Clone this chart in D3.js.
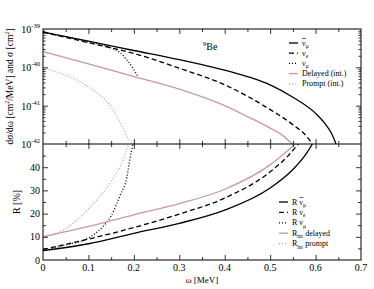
<!DOCTYPE html>
<html>
<head>
<meta charset="utf-8">
<script src="https://cdn.jsdelivr.net/npm/d3@7"></script>
<style>
  body { margin: 0; background: #fff; }
  svg text { font-family: "Liberation Serif", "DejaVu Serif", serif; fill: #000; }
</style>
</head>
<body>
<div id="chart"></div>
<script>
// top panel: cross sections (cm^2/MeV), omega in MeV
const omAbar = [0, 0.1, 0.2, 0.3, 0.35, 0.4, 0.45, 0.5, 0.55, 0.6, 0.62, 0.635, 0.645];
const sigAbar = [8.3e-40, 4.8e-40, 2.75e-40, 1.58e-40, 1.17e-40, 8.5e-41, 5.75e-41, 3.5e-41, 1.66e-41, 6.3e-42, 3.5e-42, 1.9e-42, 1e-42];
const omNue = [0, 0.1, 0.2, 0.3, 0.4, 0.5, 0.55, 0.58, 0.593];
const sigNue = [8.3e-40, 4.4e-40, 2.3e-40, 9.5e-41, 3.5e-41, 7.9e-42, 3.2e-42, 1.6e-42, 1e-42];
const omNumu = [0, 0.05, 0.1, 0.15, 0.17, 0.185, 0.198, 0.21];
const sigNumu = [8.3e-40, 6.3e-40, 4.6e-40, 3.2e-40, 2.4e-40, 1.55e-40, 9.5e-41, 5.5e-41];
const omDel = [0, 0.1, 0.2, 0.3, 0.4, 0.45, 0.5, 0.53, 0.548];
const sigDel = [2.57e-40, 1.23e-40, 5.75e-41, 2.7e-41, 1.0e-41, 5.2e-42, 2.6e-42, 1.6e-42, 1e-42];
const omPro = [0, 0.05, 0.1, 0.15, 0.175, 0.19, 0.2];
const sigPro = [9.5e-41, 6.3e-41, 3.1e-41, 9.3e-42, 2.8e-42, 1.26e-42, 1e-42];

// bottom panel: ratios R in %
const omRAbar = [0, 0.1, 0.2, 0.3, 0.4, 0.5, 0.55, 0.58, 0.593];
const rAbar = [4.0, 7.0, 11.5, 15.8, 21.5, 31, 39, 46, 50];
const omRNue = [0, 0.1, 0.2, 0.3, 0.4, 0.5, 0.54, 0.562];
const rNue = [4.6, 9.0, 14, 19.8, 26.7, 38, 45, 50];
const omRNumu = [0, 0.05, 0.1, 0.13, 0.15, 0.17, 0.185, 0.19, 0.198];
const rNumu = [4.0, 6.5, 9.5, 14, 19, 28, 36, 42, 50];
const omRDel = [0, 0.1, 0.2, 0.3, 0.4, 0.5, 0.555];
const rDel = [10, 14.5, 19.5, 24.3, 30.5, 41, 50];
const omRPro = [0, 0.05, 0.1, 0.15, 0.18, 0.188];
const rPro = [10, 13.5, 22, 34, 45, 50];

const xTicks = [0, 0.1, 0.2, 0.3, 0.4, 0.5, 0.6, 0.7];
const topTicks = [1e-42, 1e-41, 1e-40, 1e-39];
const botTicks = [0, 10, 20, 30, 40];

const pink = "#c99a9a";
const serif = "'Liberation Serif', 'DejaVu Serif', serif";

let width = 374, height = 289;
let L = 43, R = 361, T = 29, M = 144, B = 260;

let svg = d3.select("#chart").append("svg")
  .attr("width", width).attr("height", height)
  .style("font-family", serif);

let x = d3.scaleLinear().domain([0, 0.7]).range([L, R]);
let yTop = d3.scaleLog().domain([1e-42, 1e-39]).range([M, T]);
let yBot = d3.scaleLinear().domain([0, 50]).range([B, M]);

// clip paths
let defs = svg.append("defs");
defs.append("clipPath").attr("id", "cTop").append("rect")
  .attr("x", L).attr("y", T).attr("width", R - L).attr("height", M - T);
defs.append("clipPath").attr("id", "cBot").append("rect")
  .attr("x", L).attr("y", M).attr("width", R - L).attr("height", B - M);

function zip(a, b) { return a.map((v, i) => [v, b[i]]); }

let lineTop = d3.line().x(d => x(d[0])).y(d => yTop(d[1])).curve(d3.curveMonotoneX);
let lineBot = d3.line().x(d => x(d[0])).y(d => yBot(d[1])).curve(d3.curveMonotoneX);

let styles = {
  solid: {color: "#000", dash: null},
  dash: {color: "#000", dash: "5,3"},
  dot: {color: "#000", dash: "1,2"},
  pSolid: {color: pink, dash: null},
  pDot: {color: pink, dash: "1,2"}
};

let topSeries = [
  [omAbar, sigAbar, "solid"], [omNue, sigNue, "dash"], [omNumu, sigNumu, "dot"],
  [omDel, sigDel, "pSolid"], [omPro, sigPro, "pDot"]
];
let botSeries = [
  [omRAbar, rAbar, "solid"], [omRNue, rNue, "dash"], [omRNumu, rNumu, "dot"],
  [omRDel, rDel, "pSolid"], [omRPro, rPro, "pDot"]
];

let gTop = svg.append("g").attr("clip-path", "url(#cTop)");
topSeries.forEach(s => {
  gTop.append("path").attr("d", lineTop(zip(s[0], s[1])))
    .attr("fill", "none").attr("stroke", styles[s[2]].color)
    .attr("stroke-width", 1.3).attr("stroke-dasharray", styles[s[2]].dash);
});
let gBot = svg.append("g").attr("clip-path", "url(#cBot)");
botSeries.forEach(s => {
  gBot.append("path").attr("d", lineBot(zip(s[0], s[1])))
    .attr("fill", "none").attr("stroke", styles[s[2]].color)
    .attr("stroke-width", 1.3).attr("stroke-dasharray", styles[s[2]].dash);
});

// frames
svg.append("rect").attr("x", L).attr("y", T).attr("width", R - L).attr("height", B - T)
  .attr("fill", "none").attr("stroke", "#000").attr("stroke-width", 1);
svg.append("line").attr("x1", L).attr("x2", R).attr("y1", M).attr("y2", M)
  .attr("stroke", "#000").attr("stroke-width", 1.2);

// ticks helper
function ticks(axisFn, scale, vals, size, transform) {
  let g = svg.append("g").attr("transform", transform)
    .call(axisFn(scale).tickValues(vals).tickSize(size).tickFormat(""));
  g.select(".domain").remove();
  g.selectAll(".tick line").attr("stroke", "#000").attr("stroke-width", 0.8);
  return g;
}

let xMinor = d3.range(0.05, 0.7, 0.1);
// x ticks: top border (down), middle line (both), bottom (up)
ticks(d3.axisTop, x, xTicks.slice(1, -1), -5, `translate(0,${T})`);
ticks(d3.axisTop, x, xMinor, -3, `translate(0,${T})`);
ticks(d3.axisTop, x, xTicks.slice(1, -1), 5, `translate(0,${M})`);
ticks(d3.axisTop, x, xMinor, 3, `translate(0,${M})`);
ticks(d3.axisTop, x, xTicks.slice(1, -1), -5, `translate(0,${M})`);
ticks(d3.axisTop, x, xMinor, -3, `translate(0,${M})`);
ticks(d3.axisBottom, x, xTicks.slice(1, -1), -5, `translate(0,${B})`);
ticks(d3.axisBottom, x, xMinor, -3, `translate(0,${B})`);

// log ticks
let logMinor = [];
[-42, -41, -40].forEach(e => { for (let k = 2; k <= 9; k++) logMinor.push(k * Math.pow(10, e)); });
ticks(d3.axisLeft, yTop, topTicks.slice(1, -1), -5, `translate(${L},0)`);
ticks(d3.axisLeft, yTop, logMinor, -2.5, `translate(${L},0)`);
ticks(d3.axisRight, yTop, topTicks.slice(1, -1), -5, `translate(${R},0)`);
ticks(d3.axisRight, yTop, logMinor, -2.5, `translate(${R},0)`);

// linear ticks bottom
let botMinor = [5, 15, 25, 35, 45];
ticks(d3.axisLeft, yBot, botTicks.slice(1), -5, `translate(${L},0)`);
ticks(d3.axisLeft, yBot, botMinor, -3, `translate(${L},0)`);
ticks(d3.axisRight, yBot, botTicks.slice(1), -5, `translate(${R},0)`);
ticks(d3.axisRight, yBot, botMinor, -3, `translate(${R},0)`);

// tick labels
svg.selectAll(".xl").data(xTicks).enter().append("text")
  .attr("x", d => x(d)).attr("y", B + 11).attr("text-anchor", "middle")
  .style("font-size", "10px").text(d => d);

topTicks.forEach(v => {
  let t = svg.append("text").attr("x", L - 3).attr("y", yTop(v) + 4)
    .attr("text-anchor", "end").style("font-size", "10px");
  t.append("tspan").text("10");
  t.append("tspan").attr("dy", -5).style("font-size", "6.5px").text("-" + Math.round(-Math.log10(v)));
});

svg.selectAll(".yl").data(botTicks).enter().append("text")
  .attr("x", L - 3).attr("y", d => yBot(d) + 3.5).attr("text-anchor", "end")
  .style("font-size", "10px").text(d => d);

// axis titles
let yt = svg.append("text").attr("transform", `translate(13,${(T + M) / 2}) rotate(-90)`)
  .attr("text-anchor", "middle").style("font-size", "9.5px");
yt.append("tspan").text("dσ/dω [cm");
yt.append("tspan").attr("dy", -4).style("font-size", "6px").text("2");
yt.append("tspan").attr("dy", 4).text("/MeV] and σ [cm");
yt.append("tspan").attr("dy", -4).style("font-size", "6px").text("2");
yt.append("tspan").attr("dy", 4).text("]");

svg.append("text").attr("transform", `translate(20,${(M + B) / 2}) rotate(-90)`)
  .attr("text-anchor", "middle").style("font-size", "10px").text("R [%]");

svg.append("text").attr("x", (L + R) / 2).attr("y", 283).attr("text-anchor", "middle")
  .style("font-size", "9px").text("ω [MeV]");

let be = svg.append("text").attr("x", 203).attr("y", 50).style("font-size", "10px");
be.append("tspan").attr("dy", -4).style("font-size", "6.5px").text("9");
be.append("tspan").attr("dy", 4).text("Be");

// legends
function legend(x0, y0, dy, lineLen, items) {
  items.forEach((it, i) => {
    let yy = y0 + i * dy;
    svg.append("line").attr("x1", x0).attr("x2", x0 + lineLen).attr("y1", yy).attr("y2", yy)
      .attr("stroke", styles[it.style].color).attr("stroke-width", 1.3)
      .attr("stroke-dasharray", styles[it.style].dash);
    let t = svg.append("text").attr("x", x0 + lineLen + 4).attr("y", yy + 2.5)
      .style("font-size", "8px");
    it.parts.forEach(p => {
      let s = t.append("tspan").text(p[0]);
      if (p[1] === "sub") s.attr("dy", 2.5).style("font-size", "5.5px");
      if (p[1] === "up") s.attr("dy", -2.5);
    });
    if (it.bar) {
      // overbar on the nu
      let bx = x0 + lineLen + 4 + (it.barOff || 0);
      svg.append("line").attr("x1", bx).attr("x2", bx + 4)
        .attr("y1", yy - 4.5).attr("y2", yy - 4.5).attr("stroke", "#000").attr("stroke-width", 0.6);
    }
  });
}

legend(289, 43, 10.2, 9, [
  {style: "solid", parts: [["ν"], ["μ", "sub"]], bar: true},
  {style: "dash", parts: [["ν"], ["e", "sub"]]},
  {style: "dot", parts: [["ν"], ["μ", "sub"]]},
  {style: "pSolid", parts: [["Delayed (int.)"]]},
  {style: "pDot", parts: [["Prompt (int.)"]]}
]);

legend(279, 202, 10.4, 9, [
  {style: "solid", parts: [["R ν"], ["μ", "sub"]], bar: true, barOff: 7.5},
  {style: "dash", parts: [["R ν"], ["e", "sub"]]},
  {style: "dot", parts: [["R ν"], ["μ", "sub"]]},
  {style: "pSolid", parts: [["R"], ["int", "sub"], [" delayed", "up"]]},
  {style: "pDot", parts: [["R"], ["int", "sub"], [" prompt", "up"]]}
]);
</script>
</body>
</html>
